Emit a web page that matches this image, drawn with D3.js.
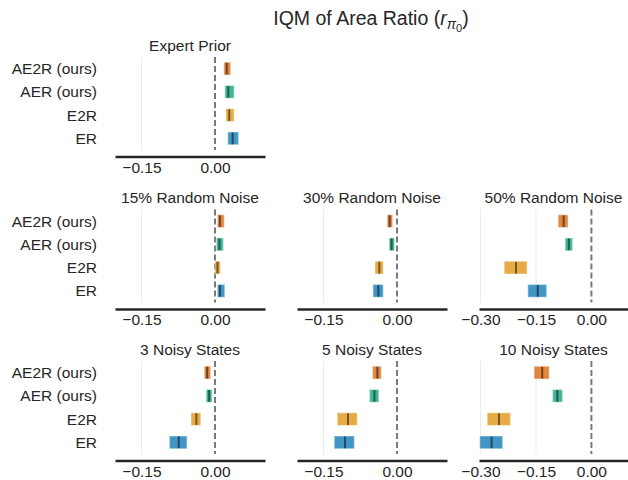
<!DOCTYPE html>
<html>
<head>
<meta charset="utf-8">
<script src="https://cdn.jsdelivr.net/npm/d3@7"></script>
<style>
  body { margin: 0; background: #fff; }
  svg { font-family: "Liberation Sans", Arial, sans-serif; }
</style>
</head>
<body>
<svg id="chart"></svg>
<script>
// methods, top to bottom
const methods = ["AE2R (ours)", "AER (ours)", "E2R", "ER"];
const methodColors = ["#d55e00", "#029e73", "#de8f05", "#0173b2"];

// interval estimates per panel: [lower, median, upper], in method order
const expertPrior = [[0.018, 0.024, 0.032], [0.020, 0.027, 0.039], [0.022, 0.029, 0.039], [0.026, 0.036, 0.048]];
const noise15 = [[0.005, 0.010, 0.019], [0.003, 0.009, 0.017], [0.000, 0.005, 0.011], [0.005, 0.010, 0.020]];
const noise30 = [[-0.020, -0.015, -0.009], [-0.016, -0.011, -0.005], [-0.045, -0.036, -0.028], [-0.049, -0.038, -0.028]];
const noise50 = [[-0.090, -0.075, -0.063], [-0.071, -0.061, -0.051], [-0.236, -0.204, -0.174], [-0.172, -0.145, -0.121]];
const noisy3 = [[-0.022, -0.016, -0.009], [-0.018, -0.012, -0.006], [-0.049, -0.038, -0.029], [-0.093, -0.074, -0.057]];
const noisy5 = [[-0.050, -0.040, -0.032], [-0.056, -0.046, -0.037], [-0.122, -0.100, -0.081], [-0.128, -0.106, -0.087]];
const noisy10 = [[-0.155, -0.133, -0.114], [-0.105, -0.092, -0.078], [-0.282, -0.250, -0.219], [-0.302, -0.270, -0.240]];

const ticksNarrow = [-0.15, 0.00];
const ticksWide = [-0.30, -0.15, 0.00];
const domainNarrow = [-0.204, 0.102];
const domainWide = [-0.304, 0.099];

const panels = [
  { title: "Expert Prior", data: expertPrior, row: 0, col: 0 },
  { title: "15% Random Noise", data: noise15, row: 1, col: 0 },
  { title: "30% Random Noise", data: noise30, row: 1, col: 1 },
  { title: "50% Random Noise", data: noise50, row: 1, col: 2 },
  { title: "3 Noisy States", data: noisy3, row: 2, col: 0 },
  { title: "5 Noisy States", data: noisy5, row: 2, col: 1 },
  { title: "10 Noisy States", data: noisy10, row: 2, col: 2 }
];

const width = 628, height = 480;
const ink = "#262626";
const fs = 15.5;
const colX = [[115, 265], [297, 447], [479, 628]];
const rowTop = [57, 209.5, 361];
const plotH = 93;
const axisGap = 6.5;

const svg = d3.select("#chart")
  .attr("width", width)
  .attr("height", height);

// main title
const title = svg.append("text")
  .attr("x", 371)
  .attr("y", 25)
  .attr("text-anchor", "middle")
  .attr("font-size", 19.5)
  .attr("fill", ink);
title.append("tspan").text("IQM of Area Ratio (");
title.append("tspan").attr("font-style", "italic").text("r");
title.append("tspan").attr("font-style", "italic").attr("font-size", 14).attr("dy", 4).text("π");
title.append("tspan").attr("font-size", 11).attr("dy", 3).text("0");
title.append("tspan").attr("dy", -7).text(")");

panels.forEach(p => {
  const wide = p.col === 2;
  const x = d3.scaleLinear()
    .domain(wide ? domainWide : domainNarrow)
    .range(colX[p.col]);
  const top = rowTop[p.row];
  const y = d3.scaleBand()
    .domain(methods)
    .range([top, top + plotH])
    .paddingInner(0.45)
    .paddingOuter(0.225);
  const ticks = wide ? ticksWide : ticksNarrow;
  const g = svg.append("g");

  // grid
  g.selectAll(".grid")
    .data(ticks.filter(t => t !== 0))
    .enter()
    .append("line")
    .attr("x1", d => x(d)).attr("x2", d => x(d))
    .attr("y1", top).attr("y2", top + plotH)
    .attr("stroke", "#ebebeb")
    .attr("stroke-width", 1);

  // zero reference
  g.append("line")
    .attr("x1", x(0)).attr("x2", x(0))
    .attr("y1", top).attr("y2", top + plotH)
    .attr("stroke", "#7a7a7a")
    .attr("stroke-width", 2)
    .attr("stroke-dasharray", "6,3");

  // interval bars
  g.selectAll(".bar")
    .data(p.data)
    .enter()
    .append("rect")
    .attr("x", d => x(d[0]))
    .attr("width", d => x(d[2]) - x(d[0]))
    .attr("y", (d, i) => y(methods[i]))
    .attr("height", y.bandwidth())
    .attr("fill", (d, i) => methodColors[i])
    .attr("fill-opacity", 0.75)
    .attr("stroke", "#fff")
    .attr("stroke-opacity", 0.35)
    .attr("stroke-width", 1.5);

  // medians
  g.selectAll(".med")
    .data(p.data)
    .enter()
    .append("line")
    .attr("x1", d => x(d[1])).attr("x2", d => x(d[1]))
    .attr("y1", (d, i) => y(methods[i]) + 0.5)
    .attr("y2", (d, i) => y(methods[i]) + y.bandwidth() - 0.5)
    .attr("stroke", "#000")
    .attr("stroke-opacity", 0.5)
    .attr("stroke-width", 2);

  // subplot title
  g.append("text")
    .attr("x", (colX[p.col][0] + colX[p.col][1]) / 2)
    .attr("y", top - 6.5)
    .attr("text-anchor", "middle")
    .attr("font-size", fs)
    .attr("fill", ink)
    .text(p.title);

  // x axis
  const ax = g.append("g")
    .attr("transform", `translate(0,${top + plotH + axisGap})`)
    .call(d3.axisBottom(x).tickValues(ticks).tickFormat(d3.format(".2f"))
      .tickSizeInner(0).tickSizeOuter(0).tickPadding(5));
  ax.select(".domain").attr("stroke", ink).attr("stroke-width", 2.6);
  ax.selectAll("text")
    .attr("font-size", fs)
    .attr("font-family", "Liberation Sans, Arial, sans-serif")
    .attr("fill", ink);

  // method labels, first column only
  if (p.col === 0) {
    g.selectAll(".lab")
      .data(methods)
      .enter()
      .append("text")
      .attr("x", 97)
      .attr("y", d => y(d) + y.bandwidth() / 2)
      .attr("dy", "0.35em")
      .attr("text-anchor", "end")
      .attr("font-size", fs)
      .attr("fill", ink)
      .text(d => d);
  }
});
</script>
</body>
</html>
